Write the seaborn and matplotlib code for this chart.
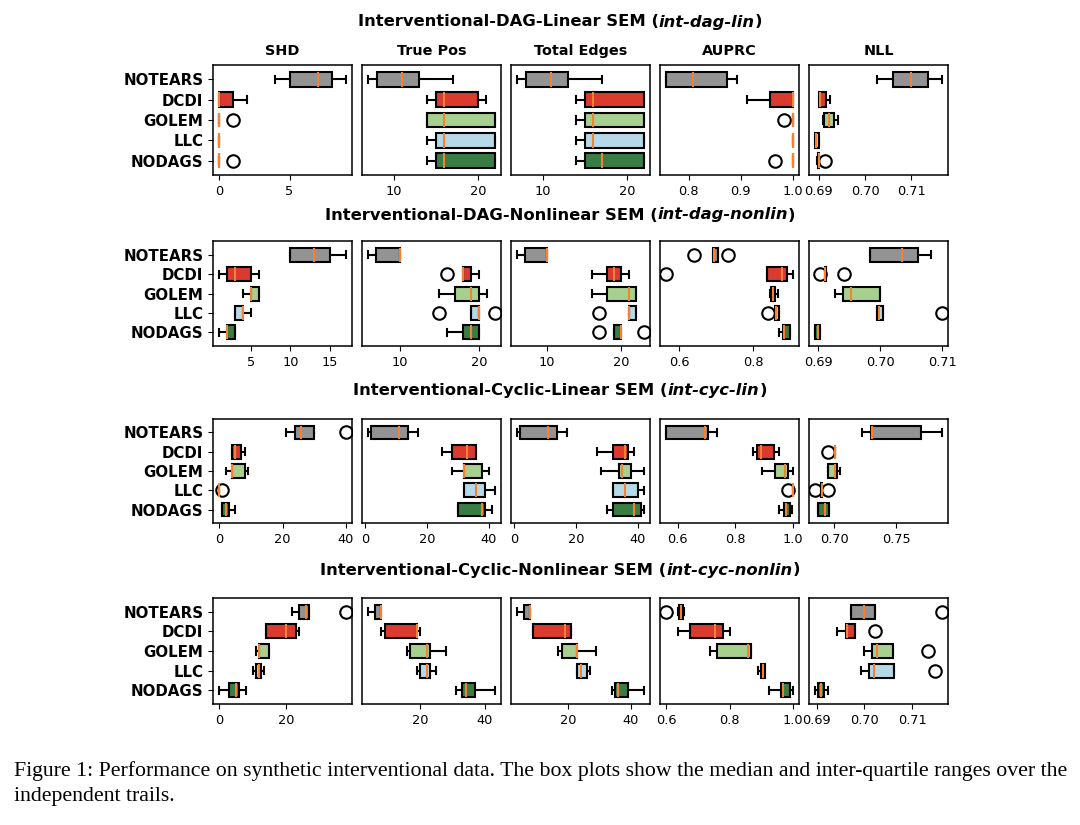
import matplotlib
matplotlib.use("Agg")
import pandas as pd
import matplotlib.pyplot as plt
import seaborn as sns

methods = ["NOTEARS", "DCDI", "GOLEM", "LLC", "NODAGS"]
colors = ["#939393", "#db3a2f", "#a7d08e", "#b5d9e8", "#3a7d44"]
metrics = ["SHD", "True Pos", "Total Edges", "AUPRC", "NLL"]

# each box: [whisker low, q1, median, q3, whisker high], one row per method
# int-dag-lin
dl_shd = [[4, 5, 7, 8, 9], [0, 0, 0, 1, 2], [0, 0, 0, 0, 0], [0, 0, 0, 0, 0], [0, 0, 0, 0, 0]]
dl_shd_fl = [[], [], [1], [], [1]]
dl_tp = [[7, 8, 11, 13, 17], [14, 15, 16, 20, 21], [14, 14, 16, 22, 22], [14, 15, 16, 22, 22], [14, 15, 16, 22, 22]]
dl_tp_fl = [[], [], [], [], []]
dl_te = [[7, 8, 11, 13, 17], [14, 15, 16, 22, 22], [14, 15, 16, 22, 22], [14, 15, 16, 22, 22], [14, 15, 17, 22, 22]]
dl_te_fl = [[], [], [], [], []]
dl_auprc = [[0.757, 0.757, 0.808, 0.873, 0.893], [0.912, 0.956, 1.0, 1.0, 1.0], [1.0, 1.0, 1.0, 1.0, 1.0],
            [1.0, 1.0, 1.0, 1.0, 1.0], [1.0, 1.0, 1.0, 1.0, 1.0]]
dl_auprc_fl = [[], [], [0.983], [], [0.966]]
dl_nll = [[0.7025, 0.706, 0.7099, 0.7135, 0.7165], [0.6901, 0.6901, 0.6904, 0.6917, 0.6925],
          [0.6909, 0.6911, 0.6923, 0.6934, 0.6941], [0.6893, 0.6893, 0.6895, 0.6901, 0.6902],
          [0.6897, 0.6899, 0.6900, 0.6901, 0.6901]]
dl_nll_fl = [[], [], [], [], [0.6913]]

# int-dag-nonlin
dn_shd = [[10, 10, 13, 15, 17], [1, 2, 3, 5, 6], [4, 5, 5, 6, 6], [3, 3, 4, 4, 5], [1, 2, 2, 3, 3]]
dn_shd_fl = [[], [], [], [], []]
dn_tp = [[6, 7, 10, 10, 10], [18, 18, 18, 19, 20], [15, 17, 19, 20, 21], [19, 19, 20, 20, 20], [16, 18, 19, 20, 20]]
dn_tp_fl = [[], [16], [], [15, 22], []]
dn_te = [[6, 7, 10, 10, 10], [16, 18, 19, 20, 21], [16, 18, 21, 22, 22], [21, 21, 21, 22, 22], [19, 19, 20, 20, 20]]
dn_te_fl = [[], [], [], [17], [17, 23]]
dn_auprc = [[0.693, 0.693, 0.694, 0.706, 0.706], [0.838, 0.838, 0.878, 0.892, 0.908],
            [0.847, 0.850, 0.855, 0.860, 0.868], [0.860, 0.860, 0.862, 0.871, 0.871],
            [0.872, 0.883, 0.885, 0.901, 0.901]]
dn_auprc_fl = [[0.64, 0.733], [0.565], [], [0.840], []]
dn_nll = [[0.6983, 0.6983, 0.7035, 0.706, 0.7081], [0.691, 0.691, 0.691, 0.6913, 0.6913],
          [0.6926, 0.694, 0.6953, 0.70, 0.70], [0.6995, 0.6995, 0.6997, 0.7005, 0.7005],
          [0.6895, 0.6895, 0.69, 0.6902, 0.6902]]
dn_nll_fl = [[], [0.6903, 0.6942], [], [0.7099], []]

# int-cyc-lin
cl_shd = [[21, 24, 26, 30, 30], [4, 4, 5, 7, 8], [2, 4, 4, 8, 9], [0, 0, 0, 0, 0], [1, 1, 2, 3, 5]]
cl_shd_fl = [[40], [], [], [1], []]
cl_tp = [[1, 2, 11, 14, 17], [25, 28, 33, 36, 36], [28, 32, 32, 38, 40], [32, 32, 36, 39, 42], [30, 30, 38, 39, 41]]
cl_tp_fl = [[], [], [], [], []]
cl_te = [[1, 2, 11, 14, 17], [27, 32, 36, 37, 39], [28, 34, 35, 38, 42], [32, 32, 36, 40, 42], [30, 32, 39, 41, 42]]
cl_te_fl = [[], [], [], [], []]
cl_auprc = [[0.561, 0.561, 0.695, 0.707, 0.738], [0.863, 0.875, 0.891, 0.936, 0.952],
            [0.894, 0.937, 0.974, 0.985, 1.0], [1.0, 1.0, 1.0, 1.0, 1.0],
            [0.953, 0.969, 0.977, 0.989, 0.999]]
cl_auprc_fl = [[], [], [], [0.982], []]
cl_nll = [[0.7226, 0.7293, 0.7306, 0.770, 0.787], [0.7003, 0.7003, 0.7005, 0.7008, 0.7008],
          [0.6944, 0.6944, 0.7008, 0.702, 0.7042], [0.6895, 0.6895, 0.6896, 0.6898, 0.6898],
          [0.687, 0.687, 0.692, 0.6952, 0.6952]]
cl_nll_fl = [[], [0.695], [], [0.6845, 0.6948], []]

# int-cyc-nonlin
cn_shd = [[22, 24, 26, 27, 27], [14, 14, 20, 23, 24], [11, 12, 12, 15, 15], [10, 11, 12, 12.5, 13.5], [0, 3, 5, 6, 8]]
cn_shd_fl = [[38], [], [], [], []]
cn_tp = [[4, 6, 8, 8, 8], [8, 9, 19, 19, 20], [16, 17, 22, 23, 28], [19, 20, 22, 23, 25], [31, 33, 34, 37, 43]]
cn_tp_fl = [[], [], [], [], []]
cn_te = [[4, 6, 8, 8, 8], [9, 9, 19, 21, 21], [17, 18, 23, 23, 29], [23, 23, 24, 26, 27], [34, 35, 36, 39, 44]]
cn_te_fl = [[], [], [], [], []]
cn_auprc = [[0.638, 0.641, 0.647, 0.653, 0.655], [0.636, 0.675, 0.754, 0.78, 0.80],
            [0.737, 0.76, 0.858, 0.866, 0.866], [0.889, 0.898, 0.904, 0.912, 0.912],
            [0.924, 0.96, 0.969, 0.99, 0.998]]
cn_auprc_fl = [[0.6], [], [], [], []]
cn_nll = [[0.6971, 0.6971, 0.70, 0.7022, 0.7022], [0.6943, 0.6961, 0.6964, 0.6981, 0.6981],
          [0.6999, 0.7015, 0.7026, 0.706, 0.706], [0.6993, 0.701, 0.7021, 0.7062, 0.7062],
          [0.6897, 0.6903, 0.6909, 0.6916, 0.6924]]
cn_nll_fl = [[0.7162], [0.7023], [0.7133], [0.7147], []]

rows = [
    ("Interventional-DAG-Linear SEM", "int-dag-lin",
     [(dl_shd, dl_shd_fl), (dl_tp, dl_tp_fl), (dl_te, dl_te_fl), (dl_auprc, dl_auprc_fl), (dl_nll, dl_nll_fl)],
     [[0, 5], [10, 20], [10, 20], [0.8, 0.9, 1.0], [0.69, 0.70, 0.71]]),
    ("Interventional-DAG-Nonlinear SEM", "int-dag-nonlin",
     [(dn_shd, dn_shd_fl), (dn_tp, dn_tp_fl), (dn_te, dn_te_fl), (dn_auprc, dn_auprc_fl), (dn_nll, dn_nll_fl)],
     [[5, 10, 15], [10, 20], [10, 20], [0.6, 0.8], [0.69, 0.70, 0.71]]),
    ("Interventional-Cyclic-Linear SEM", "int-cyc-lin",
     [(cl_shd, cl_shd_fl), (cl_tp, cl_tp_fl), (cl_te, cl_te_fl), (cl_auprc, cl_auprc_fl), (cl_nll, cl_nll_fl)],
     [[0, 20, 40], [0, 20, 40], [0, 20, 40], [0.6, 0.8, 1.0], [0.70, 0.75]]),
    ("Interventional-Cyclic-Nonlinear SEM", "int-cyc-nonlin",
     [(cn_shd, cn_shd_fl), (cn_tp, cn_tp_fl), (cn_te, cn_te_fl), (cn_auprc, cn_auprc_fl), (cn_nll, cn_nll_fl)],
     [[0, 20], [20, 40], [20, 40], [0.6, 0.8, 1.0], [0.69, 0.70, 0.71]]),
]

caption1 = ("Figure 1: Performance on synthetic interventional data. The box plots show the median "
            "and inter-quartile ranges over the")
caption2 = "independent trails."


def to_frame(boxes, fliers):
    # samples whose quartiles / whiskers reproduce the summaries
    recs = []
    for m, b, fl in zip(methods, boxes, fliers):
        lo, q1, med, q3, hi = b
        vals = [lo] + [q1] * 20 + [med] * 20 + [q3] * 20 + [hi] + list(fl)
        recs += [(m, v) for v in vals]
    return pd.DataFrame(recs, columns=["method", "value"])


W, H = 1080, 825
fig = plt.figure(figsize=(W / 100, H / 100), dpi=100)
plt.rcParams["font.family"] = ["DejaVu Sans"]

col_left = [213, 362, 511, 660, 809]
col_w = 139
row_top = [65, 241, 419, 598]
row_h = [110, 105, 104, 106]
title_y = [22, 215, 391, 570]

palette = dict(zip(methods, colors))
renderer = fig.canvas.get_renderer()

for r, (name, tag, panels, ticks) in enumerate(rows):
    for c, (boxes, fl) in enumerate(panels):
        ax = fig.add_axes([col_left[c] / W, 1 - (row_top[r] + row_h[r]) / H, col_w / W, row_h[r] / H])
        df = to_frame(boxes, fl)
        sns.boxplot(data=df, x="value", y="method", hue="method", order=methods, hue_order=methods,
                    palette=palette, legend=False, dodge=False, saturation=1, width=0.72,
                    linewidth=1.5, linecolor="black", whis=1.5, fliersize=9,
                    medianprops=dict(color="#f58231", linewidth=1.5),
                    flierprops=dict(marker="o", markerfacecolor="none", markeredgecolor="black",
                                    markeredgewidth=1.5, markersize=9),
                    ax=ax)
        ax.set_ylim(4.7, -0.7)
        ax.set_xticks(ticks[c])
        ax.set_xlabel("")
        ax.set_ylabel("")
        ax.tick_params(axis="x", labelsize=9.3)
        for s in ax.spines.values():
            s.set_linewidth(1.1)
        if c == 0:
            ax.set_yticks(range(5))
            ax.set_yticklabels(methods, fontsize=10.8, fontweight="bold")
        else:
            ax.set_yticks([])
        if r == 0:
            ax.set_title(metrics[c], fontsize=10.4, fontweight="bold", pad=7)

    # row title: bold text with the bold-italic tag in brackets
    parts = [(name + " (", "normal"), (tag, "italic"), (")", "normal")]
    texts = [fig.text(0, 1 - title_y[r] / H, s, fontsize=11.8, fontweight="bold", style=st, va="center")
             for s, st in parts]
    widths = [t.get_window_extent(renderer).width for t in texts]
    x = 560 - sum(widths) / 2
    for t, w in zip(texts, widths):
        t.set_x(x / W)
        x += w

fig.text(14 / W, 1 - 771 / H, caption1, family="Liberation Serif", fontsize=15.7, va="center")
fig.text(14 / W, 1 - 797 / H, caption2, family="Liberation Serif", fontsize=15.7, va="center")

fig.savefig("out.png", dpi=100)
